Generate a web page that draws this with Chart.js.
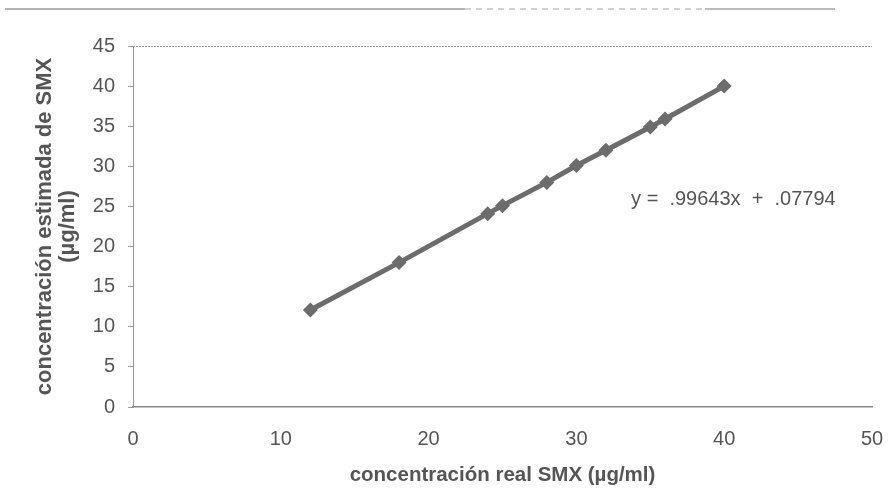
<!DOCTYPE html>
<html>
<head>
<meta charset="utf-8">
<script src="https://cdn.jsdelivr.net/npm/chart.js@4.4.1/dist/chart.umd.min.js"></script>
<style>
  html, body { margin: 0; padding: 0; background: #fff; }
  #wrap { width: 888px; height: 496px; position: relative; }
</style>
</head>
<body>
<div id="wrap"><canvas id="c" width="888" height="496"></canvas></div>
<script>
// ---- data ----
const realConc = [12, 18, 24, 25, 28, 30, 32, 35, 36, 40];
const estConc  = [12.1, 18.0, 24.1, 25.1, 28.0, 30.1, 32.0, 34.9, 35.9, 40.0];
const xTickLabels = [0, 10, 20, 30, 40, 50];
const yTickLabels = [0, 5, 10, 15, 20, 25, 30, 35, 40, 45];
const equationText = 'y =  .99643x  +  .07794';
const equationAt = { x: 33.7, y: 25.9 };
const xTitle = 'concentración real SMX (µg/ml)';
const yTitle = ['concentración estimada de SMX', '(µg/ml)'];

const textColor = '#555555';
const markColor = '#6c6c6c';
const FONT = "'Liberation Sans', Arial, sans-serif";

const points = realConc.map((x, i) => ({ x: x, y: estConc[i] }));

const decoPlugin = {
  id: 'deco',
  beforeDraw(chart) {
    const ctx = chart.ctx;
    ctx.save();
    // scan line at top of page
    ctx.strokeStyle = '#9a9a9a';
    ctx.lineWidth = 1.5;
    ctx.beginPath(); ctx.moveTo(5, 9); ctx.lineTo(465, 9); ctx.stroke();
    ctx.setLineDash([6, 5]);
    ctx.strokeStyle = '#c4c4c4';
    ctx.beginPath(); ctx.moveTo(465, 9); ctx.lineTo(705, 9); ctx.stroke();
    ctx.setLineDash([]);
    ctx.strokeStyle = '#a5a5a5';
    ctx.beginPath(); ctx.moveTo(705, 9); ctx.lineTo(835, 9); ctx.stroke();
    // dotted top border of plot area
    const a = chart.chartArea;
    ctx.strokeStyle = '#9a9a9a';
    ctx.lineWidth = 1;
    ctx.setLineDash([2, 1]);
    ctx.beginPath(); ctx.moveTo(a.left, a.top + 0.5); ctx.lineTo(a.right, a.top + 0.5); ctx.stroke();
    ctx.restore();
  },
  afterDatasetsDraw(chart) {
    const ctx = chart.ctx;
    const xs = chart.scales.x, ys = chart.scales.y;
    ctx.save();
    ctx.font = '20px ' + FONT;
    ctx.fillStyle = textColor;
    ctx.textAlign = 'left';
    ctx.textBaseline = 'middle';
    ctx.fillText(equationText, xs.getPixelForValue(equationAt.x), ys.getPixelForValue(equationAt.y));
    ctx.restore();
  }
};

new Chart(document.getElementById('c'), {
  type: 'scatter',
  data: {
    datasets: [{
      data: points,
      showLine: true,
      borderColor: markColor,
      borderWidth: 5,
      backgroundColor: markColor,
      pointStyle: 'rectRot',
      pointRadius: 7.5,
      pointBorderWidth: 0,
      pointBackgroundColor: markColor,
      tension: 0
    }]
  },
  options: {
    responsive: false,
    animation: false,
    devicePixelRatio: 1,
    layout: { padding: { left: 0, right: 16, top: 46, bottom: 0 } },
    plugins: { legend: { display: false }, tooltip: { enabled: false } },
    scales: {
      x: {
        type: 'linear',
        min: 0, max: 50,
        afterBuildTicks(s) { s.ticks = xTickLabels.map(v => ({ value: v })); },
        afterFit(s) { s.height = 89; s.paddingLeft = 0; s.paddingRight = 0; },
        grid: { display: false, drawTicks: false },
        border: { display: true, color: '#8a8a8a', width: 1.5 },
        ticks: { color: textColor, font: { family: FONT, size: 20 }, padding: 20, maxRotation: 0 },
        title: {
          display: true, text: xTitle, color: textColor,
          font: { family: FONT, size: 20.5, weight: 'bold', lineHeight: 1.2 },
          padding: { top: 0, bottom: 8 }
        }
      },
      y: {
        type: 'linear',
        min: 0, max: 45,
        afterBuildTicks(s) { s.ticks = yTickLabels.map(v => ({ value: v })); },
        afterFit(s) { s.width = 133; },
        grid: { display: true, drawOnChartArea: false, drawTicks: true, tickLength: 5, color: '#9a9a9a' },
        border: { display: true, color: '#9a9a9a', width: 1, dash: [2, 1] },
        ticks: { color: textColor, font: { family: FONT, size: 20 }, padding: 13 },
        title: {
          display: true, text: yTitle, color: textColor,
          font: { family: FONT, size: 22, weight: 'bold', lineHeight: 1.05 },
          padding: { top: 33, bottom: 0 }
        }
      }
    }
  },
  plugins: [decoPlugin]
});
</script>
</body>
</html>
